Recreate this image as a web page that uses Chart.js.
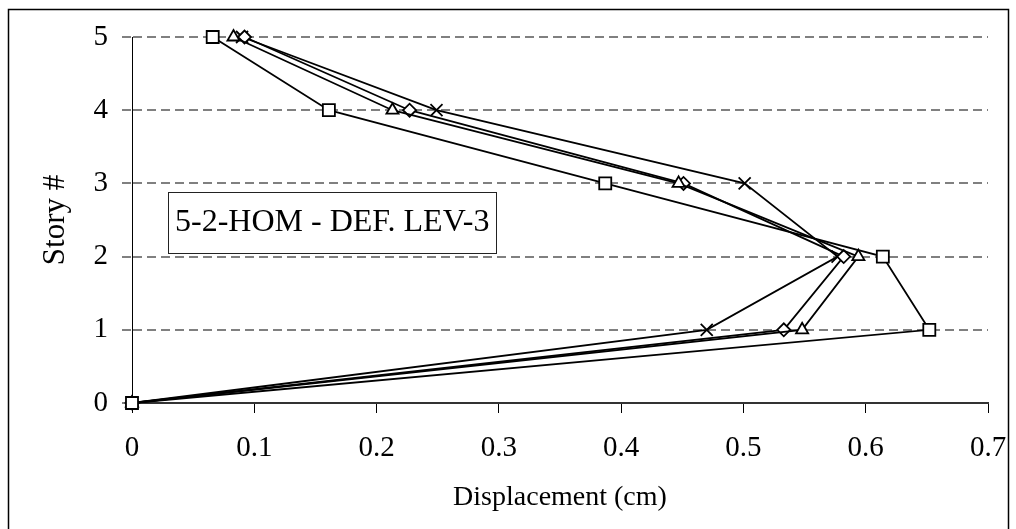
<!DOCTYPE html>
<html>
<head>
<meta charset="utf-8">
<script src="https://cdn.jsdelivr.net/npm/chart.js@4.4.0/dist/chart.umd.min.js"></script>
<style>
  html, body { margin: 0; padding: 0; background: #fff; }
  #wrap { width: 1016px; height: 529px; position: relative; }
</style>
</head>
<body>
<div id="wrap"><canvas id="storyChart" width="1016" height="529"></canvas></div>
<script>
const stories = [0, 1, 2, 3, 4, 5];
const squareDisp = [0, 0.652, 0.614, 0.387, 0.161, 0.066];
const triangleDisp = [0, 0.548, 0.594, 0.447, 0.213, 0.083];
const diamondDisp = [0, 0.533, 0.582, 0.451, 0.227, 0.092];
const crossDisp = [0, 0.470, 0.577, 0.501, 0.249, 0.090];
const xTickLabels = ['0', '0.1', '0.2', '0.3', '0.4', '0.5', '0.6', '0.7'];
const yTickLabels = ['0', '1', '2', '3', '4', '5'];
const boxText = '5-2-HOM - DEF. LEV-3';

const serif = "'Liberation Serif', 'Times New Roman', serif";

function toPoints(disp) {
    return disp.map((d, i) => ({ x: d, y: stories[i] }));
}

function series(disp, style, radius) {
    return {
        data: toPoints(disp),
        borderColor: '#000',
        borderWidth: 1.8,
        pointStyle: style,
        pointRadius: radius,
        pointBorderWidth: 1.8,
        pointBorderColor: '#000',
        pointBackgroundColor: '#fff',
        showLine: true,
        tension: 0,
        clip: false
    };
}

// frame round the whole picture plus the text box
const extras = {
    id: 'extras',
    afterDraw(chart) {
        const c = chart.ctx;
        c.save();
        c.strokeStyle = '#000';
        c.lineWidth = 1.5;
        c.strokeRect(8.5, 9.5, 1000, 600);

        c.fillStyle = '#fff';
        c.fillRect(168, 192, 328, 61);
        c.lineWidth = 1;
        c.strokeStyle = '#222';
        c.strokeRect(168.5, 192.5, 328, 61);
        c.fillStyle = '#000';
        c.font = '32px ' + serif;
        c.textBaseline = 'middle';
        c.fillText(boxText, 175, 223);
        c.restore();
    }
};

new Chart(document.getElementById('storyChart'), {
    type: 'scatter',
    data: {
        datasets: [
            series(squareDisp, 'rect', 8.5),
            series(triangleDisp, 'triangle', 7),
            series(diamondDisp, 'rectRot', 6.5),
            series(crossDisp, 'crossRot', 8.5)
        ]
    },
    plugins: [extras],
    options: {
        responsive: false,
        animation: false,
        layout: { padding: { left: 0, top: 37, right: 28, bottom: 0 } },
        plugins: { legend: { display: false }, tooltip: { enabled: false } },
        scales: {
            x: {
                type: 'linear',
                min: 0,
                max: 0.7,
                afterFit: s => {
                    s.height = 126;
                    s.paddingLeft = 0;
                    s.paddingRight = 0;
                },
                afterBuildTicks: s => { s.ticks = xTickLabels.map(t => ({ value: +t })); },
                ticks: {
                    color: '#000',
                    font: { family: serif, size: 29 },
                    padding: 18,
                    maxRotation: 0,
                    callback: (v, i) => xTickLabels[i]
                },
                grid: { drawOnChartArea: false, drawTicks: true, tickLength: 10, tickColor: '#000', tickWidth: 1 },
                border: { color: '#333', width: 2 },
                title: {
                    display: true,
                    text: 'Displacement (cm)',
                    color: '#000',
                    font: { family: serif, size: 28 },
                    padding: { top: 4, bottom: 15 }
                }
            },
            y: {
                type: 'linear',
                min: 0,
                max: 5,
                afterFit: s => {
                    s.width = 132;
                    s.paddingTop = 0;
                    s.paddingBottom = 0;
                },
                afterBuildTicks: s => { s.ticks = yTickLabels.map(t => ({ value: +t })); },
                ticks: {
                    color: '#000',
                    font: { family: serif, size: 29 },
                    padding: 14,
                    callback: (v, i) => yTickLabels[i]
                },
                grid: {
                    color: ctx => (ctx.tick && ctx.tick.value === 0) ? 'rgba(0,0,0,0)' : '#808080',
                    lineWidth: 2,
                    drawTicks: true,
                    tickLength: 10,
                    tickColor: '#808080',
                    tickWidth: 2,
                    tickBorderDash: [9, 5]
                },
                border: { color: '#000', width: 1, dash: [9, 5], display: true },
                title: {
                    display: true,
                    text: 'Story #',
                    color: '#000',
                    font: { family: serif, size: 31 },
                    padding: { top: 37, bottom: 0 }
                }
            }
        }
    }
});
</script>
</body>
</html>
